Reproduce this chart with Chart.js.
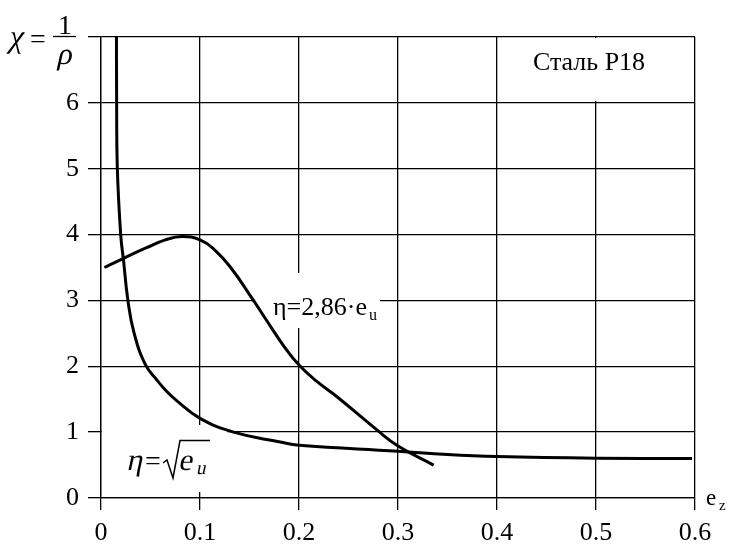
<!DOCTYPE html>
<html>
<head>
<meta charset="utf-8">
<title>Сталь Р18</title>
<script src="https://cdn.jsdelivr.net/npm/chart.js@4.4.1/dist/chart.umd.min.js"></script>
<style>
  html, body { margin: 0; padding: 0; background: #fff; }
  canvas { display: block; }
</style>
</head>
<body>
<canvas id="chart" width="729" height="544"></canvas>
<script>
// Chart data
const xTickValues = [0, 0.1, 0.2, 0.3, 0.4, 0.5, 0.6];
const xTickLabels = ['0', '0.1', '0.2', '0.3', '0.4', '0.5', '0.6'];
const yTickValues = [0, 1, 2, 3, 4, 5, 6, 7];
const yTickLabels = ['0', '1', '2', '3', '4', '5', '6', ''];

// eta = sqrt(e_u)
const sqrtX = [0.0156, 0.0158, 0.0165, 0.0199, 0.0228, 0.0272, 0.0335, 0.045, 0.056, 0.065, 0.077, 0.1, 0.134, 0.181, 0.2, 0.3, 0.35, 0.4, 0.5, 0.597];
const sqrtY = [7.3, 6.0, 5.0, 4.0, 3.6, 3.0, 2.5, 2.02, 1.8, 1.64, 1.47, 1.21, 1.0, 0.85, 0.80, 0.71, 0.66, 0.63, 0.605, 0.60];

// eta = 2,86 * e_u
const linX = [0.0034, 0.0228, 0.046, 0.065, 0.082, 0.1, 0.114, 0.131, 0.154, 0.168, 0.185, 0.2, 0.218, 0.239, 0.279, 0.3, 0.336];
const linY = [3.5, 3.64, 3.8, 3.92, 3.97, 3.92, 3.78, 3.5, 3.0, 2.68, 2.3, 2.02, 1.77, 1.53, 1.03, 0.79, 0.5];

const FONT = '"Liberation Serif", "Times New Roman", serif';
const toPoints = (xs, ys) => xs.map((x, i) => ({x, y: ys[i]}));

// slanted serif text (italic face of the serif font is not reliable here)
function slanted(ctx, text, x, y, size){
  ctx.save();
  ctx.translate(x, y);
  ctx.transform(1, 0, -0.22, 1, 0, 0);
  ctx.font = size + 'px ' + FONT;
  ctx.textAlign = 'left';
  ctx.fillText(text, 0, 0);
  ctx.restore();
}

// white patches behind the labels (drawn over the grid, under the curves)
const labelBoxes = {
  id: 'labelBoxes',
  beforeDatasetsDraw(chart){
    const {ctx} = chart;
    ctx.save();
    ctx.fillStyle = '#fff';
    ctx.fillRect(102, 425, 125, 67);
    ctx.fillRect(255, 273, 125, 55);
    ctx.fillRect(498, 38, 196, 63);
    ctx.restore();
  }
};

// texts: axis titles, curve labels, steel grade
const annotations = {
  id: 'annotations',
  afterDraw(chart){
    const {ctx} = chart;
    ctx.save();
    ctx.fillStyle = '#000';
    ctx.strokeStyle = '#000';
    ctx.textBaseline = 'alphabetic';

    // chi = 1/rho
    slanted(ctx, 'χ', 8, 47, 32);
    ctx.font = '28px ' + FONT;
    ctx.textAlign = 'left';
    ctx.fillText('=', 30, 48);
    ctx.textAlign = 'center';
    ctx.fillText('1', 65, 34);
    ctx.lineWidth = 1.3;
    ctx.beginPath();
    ctx.moveTo(53, 36.5);
    ctx.lineTo(76, 36.5);
    ctx.stroke();
    slanted(ctx, 'ρ', 56, 64, 31);

    // e_z
    ctx.textAlign = 'left';
    ctx.font = '23px ' + FONT;
    ctx.fillText('e', 706, 505);
    ctx.font = '15px ' + FONT;
    ctx.fillText('z', 719, 510);

    // steel grade
    ctx.textAlign = 'center';
    ctx.font = '26px ' + FONT;
    ctx.fillText('Сталь Р18', 589, 70);

    // eta = 2,86 e_u
    ctx.textAlign = 'left';
    ctx.font = '26px ' + FONT;
    ctx.fillText('η=2,86·e', 273, 315);
    ctx.font = '16px ' + FONT;
    ctx.fillText('u', 369, 320);

    // eta = sqrt(e_u)
    slanted(ctx, 'η', 126, 470, 31);
    ctx.font = '28px ' + FONT;
    ctx.textAlign = 'left';
    ctx.fillText('=', 145, 470);
    ctx.lineWidth = 1.5;
    ctx.beginPath();
    ctx.moveTo(163, 463);
    ctx.lineTo(167, 460);
    ctx.lineTo(173, 478);
    ctx.lineTo(180, 440.5);
    ctx.lineTo(210, 440.5);
    ctx.stroke();
    slanted(ctx, 'e', 178, 470, 31);
    slanted(ctx, 'u', 196, 474, 19);
    ctx.restore();
  }
};

const ctx = document.getElementById('chart').getContext('2d');
new Chart(ctx, {
  type: 'line',
  data: {
    datasets: [
      {
        label: 'η = √e_u',
        data: toPoints(sqrtX, sqrtY),
        borderColor: '#000',
        borderWidth: 3,
        pointRadius: 0,
        fill: false
      },
      {
        label: 'η=2,86·e_u',
        data: toPoints(linX, linY),
        borderColor: '#000',
        borderWidth: 3,
        pointRadius: 0,
        fill: false
      }
    ]
  },
  options: {
    responsive: false,
    animation: false,
    elements: {line: {tension: 0.45, capBezierPoints: false}},
    layout: {padding: {top: 37, right: 34, left: 0, bottom: 0}},
    plugins: {legend: {display: false}, tooltip: {enabled: false}},
    scales: {
      x: {
        type: 'linear',
        min: 0,
        max: 0.6,
        afterFit: s => { s.height = 46; },
        afterBuildTicks: s => { s.ticks = xTickValues.map(v => ({value: v})); },
        ticks: {
          color: '#000',
          font: {family: FONT, size: 26},
          padding: 8,
          maxRotation: 0,
          callback: (v, i) => xTickLabels[i]
        },
        grid: {color: '#000', lineWidth: 1.3, tickLength: 12, tickColor: '#000'},
        border: {color: '#000', width: 1.3}
      },
      y: {
        type: 'linear',
        min: 0,
        max: 7,
        afterFit: s => { s.width = 101; },
        afterBuildTicks: s => { s.ticks = yTickValues.map(v => ({value: v})); },
        ticks: {
          color: '#000',
          font: {family: FONT, size: 26},
          padding: 9,
          callback: (v, i) => yTickLabels[i]
        },
        grid: {color: '#000', lineWidth: 1.3, tickLength: 13, tickColor: '#000'},
        border: {color: '#000', width: 1.3}
      }
    }
  },
  plugins: [labelBoxes, annotations]
});
</script>
</body>
</html>
